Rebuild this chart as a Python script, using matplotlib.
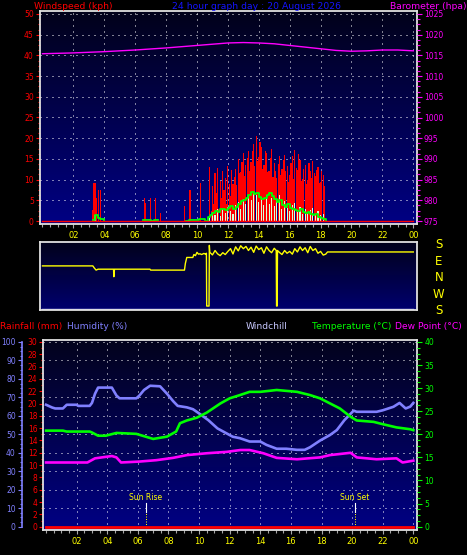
import numpy as np
import matplotlib
matplotlib.use("Agg")
import matplotlib.pyplot as plt
from matplotlib.colors import to_rgb
from matplotlib.ticker import MultipleLocator

# ---------------- data ----------------
hour_ticks = [2, 4, 6, 8, 10, 12, 14, 16, 18, 20, 22, 24]
hour_labels = ["02", "04", "06", "08", "10", "12", "14", "16", "18", "20", "22", "00"]

# barometer (hpa)
baro_hours = [0, 2, 4, 6, 8, 10, 11, 12, 13, 14, 15, 16, 17, 18, 19, 20, 21, 22, 23, 24]
baro_hpa = [1015.4, 1015.6, 1015.9, 1016.3, 1016.8, 1017.4, 1017.7, 1018.0, 1018.1, 1018.0,
            1017.8, 1017.4, 1017.0, 1016.6, 1016.2, 1016.0, 1016.1, 1016.3, 1016.3, 1016.1]

# gust bars (kph): scattered early ones, then 5 minute samples from 10:50
gust_early_hours = [3.23, 3.30, 3.40, 3.51, 3.64, 3.75, 6.58, 6.66, 6.99, 7.31, 7.65, 9.20, 9.55, 10.20]
gust_early_kph = [2.7, 9.1, 9.1, 5.5, 7.5, 7.5, 5.5, 4.3, 5.5, 5.5, 2.0, 3.6, 7.5, 9.1]
gust_main_start = 10.833
gust_main_kph = [
    13.0, 2.5, 8.5, 4.0, 11.5, 6.8, 12.8, 3.0, 9.6, 5.5, 12.0, 7.5,
    10.4, 4.2, 13.2, 9.0, 6.0, 12.4, 9.0, 10.6, 12.5, 8.8, 15.0, 11.6,
    11.8, 14.2, 16.5, 10.8, 13.5, 15.2, 17.0, 12.0, 14.2, 16.8, 18.5, 13.4,
    20.5, 14.6, 15.5, 19.0, 17.8, 12.5, 13.6, 17.0, 16.4, 11.8, 12.0, 15.2,
    17.5, 10.6, 14.0, 12.2, 10.5, 13.8, 15.8, 11.0, 12.6, 14.8, 16.0, 12.2,
    13.2, 9.4, 11.0, 14.0, 15.6, 10.2, 17.2, 12.8, 12.4, 16.2, 14.8, 9.6,
    10.2, 12.6, 13.5, 9.0, 9.8, 14.0, 12.0, 10.4, 14.6, 11.5, 10.8, 12.4,
    13.0, 9.2, 9.5, 12.0, 11.2, 8.5]

# average speed bars (kph), 10 minute samples from 10:50
avg_bar_hours_early = [3.40]
avg_bar_kph_early = [1.5]
avg_main_kph = [
    1.0, 2.2, 1.5, 2.8, 1.2, 3.0, 2.0, 3.4, 2.5, 1.8, 3.8, 4.5,
    3.0, 5.2, 4.0, 6.0, 5.0, 7.0, 6.2, 4.6, 5.8, 3.8, 6.4, 4.2,
    5.6, 3.6, 5.0, 6.2, 3.0, 4.8, 3.2, 2.4, 3.8, 4.4, 2.2, 3.4,
    1.8, 3.0, 2.0, 2.6, 3.2, 1.6, 2.4, 1.4, 1.8]

# green wind line (kph)
line_early_hours = [3.30, 3.40, 3.50, 3.60, 3.70, 3.85, 3.95, np.nan, 6.50, 6.70, 7.00, 7.20, 7.50,
                    np.nan, 9.30, 9.50, 9.70, 10.10, 10.30, 10.50, 10.70]
line_early_kph = [0.3, 1.4, 1.4, 0.8, 0.6, 0.6, 0.0, np.nan, 0.3, 0.3, 0.0, 0.3, 0.3,
                  np.nan, 0.0, 0.3, 0.3, 0.6, 0.6, 0.0, 1.0]
line_main_kph = [
    1.5, 2.0, 2.4, 2.2, 2.8, 3.0, 2.6, 3.2, 3.6, 3.0, 3.4, 4.2,
    4.8, 5.0, 5.6, 6.4, 7.0, 6.6, 6.8, 5.8, 5.4, 5.6, 6.2, 6.8,
    6.0, 5.2, 4.6, 5.0, 3.8, 3.4, 4.0, 3.2, 2.8, 2.6, 2.4, 2.8,
    2.2, 2.0, 2.2, 1.6, 1.4, 1.8, 1.0, 0.8, 0.4, 0.0]

# wind direction (degrees)
dir_hours = [
    0.00, 3.26, 3.35, 3.47, 3.60, 4.60, 4.62, 4.66, 6.96, 7.00, 9.19, 9.25, 9.34, 9.73,
    9.80, 9.90, 10.00, 10.10, 10.20, 10.30, 10.45, 10.55, 10.61, 10.63, 10.78, 10.80,
    10.83, 11.00, 11.17, 11.33, 11.50, 11.67, 11.83, 12.00, 12.17, 12.33, 12.50, 12.67,
    12.83, 13.00, 13.17, 13.33, 13.50, 13.67, 13.83, 14.00, 14.17, 14.33, 14.50, 14.67,
    14.83, 15.00, 15.13, 15.15, 15.19, 15.21, 15.33, 15.50, 15.67, 15.83, 16.00, 16.17,
    16.33, 16.50, 16.67, 16.83, 17.00, 17.17, 17.33, 17.50, 17.67, 17.83, 18.00, 18.17,
    18.33, 18.45, 24.00]
dir_deg = [
    66, 66, 55, 43, 48, 48, 7, 48, 48, 43, 43, 80, 112, 112,
    128, 122, 140, 130, 132, 128, 134, 130, 135, 207, 207, 178,
    140, 126, 150, 132, 122, 138, 128, 145, 160, 131, 170, 148,
    176, 160, 172, 150, 168, 140, 174, 155, 165, 135, 170, 150,
    138, 162, 150, 207, 207, 150, 140, 128, 150, 135, 145, 130,
    160, 142, 170, 150, 165, 138, 172, 150, 160, 135, 145, 125,
    130, 142, 142]
dir_names = ["S", "W", "N", "E", "S"]

# humidity (%)
hum_hours = [0.0, 0.4, 0.6, 1.1, 1.35, 2.0, 2.1, 2.85, 3.0, 3.2,
             3.4, 4.3, 4.6, 4.8, 5.9, 6.1, 6.4, 6.8, 7.45, 7.9,
             8.3, 8.6, 9.2, 9.6, 10.0, 10.6, 11.2, 11.8, 12.2, 12.67,
             13.3, 14.0, 14.4, 15.07, 15.7, 16.4, 16.9, 17.25, 17.9, 18.55,
             19.0, 19.5, 20.1, 20.3, 21.6, 22.0, 22.7, 23.1, 23.5, 23.8, 24.0]
hum_pct = [66, 64.5, 64, 64, 66, 66, 65.4, 65.4, 67, 72,
           75.3, 75.3, 71, 69.5, 69.5, 71, 74, 76.3, 76, 72,
           68, 65.4, 64.6, 63.6, 61.3, 57.7, 53.2, 50.5, 48.7, 47.9,
           46.1, 46.1, 44.3, 42.2, 42.2, 41.6, 41.6, 43, 46.6, 49.6,
           52.3, 57.7, 62.8, 62.2, 62.2, 63, 64.9, 67, 64, 65, 67]

# temperature (C)
temp_hours = [0.0, 1.1, 1.35, 2.85, 3.0, 3.4, 3.9, 4.6, 5.9, 7.0,
              7.9, 8.5, 8.75, 9.2, 9.85, 10.5, 11.4, 12.0, 12.67, 13.3,
              14.0, 15.07, 16.4, 17.25, 17.9, 18.55, 19.2, 19.9, 20.3, 21.4,
              22.0, 22.9, 23.8, 24.0]
temp_c = [20.8, 20.8, 20.6, 20.6, 20.4, 19.7, 19.7, 20.3, 20.1, 19.0,
          19.5, 20.6, 22.4, 23.0, 23.6, 24.7, 26.7, 27.8, 28.5, 29.2,
          29.2, 29.6, 29.2, 28.5, 27.8, 26.7, 25.6, 23.8, 23.0, 22.7,
          22.2, 21.5, 21.1, 20.9]

# dew point (C)
dew_hours = [0.0, 2.7, 3.2, 4.3, 4.6, 4.9, 6.1, 7.2, 8.3, 9.2,
             10.5, 11.8, 12.7, 13.3, 14.2, 15.07, 16.4, 17.9, 18.55, 19.9,
             20.3, 21.6, 22.9, 23.3, 24.0]
dew_c = [13.9, 13.9, 14.8, 15.3, 15.0, 13.9, 14.1, 14.4, 14.9, 15.5,
         15.9, 16.2, 16.6, 16.6, 15.9, 14.9, 14.6, 15.0, 15.5, 16.0,
         15.0, 14.6, 14.8, 13.9, 14.3]

# rainfall (mm)
rain_hours = [0, 24]
rain_mm = [0, 0]

sun_hours = [6.53, 20.2]
sun_labels = ["Sun Rise", "Sun Set"]

# ---------------- drawing ----------------
W, H = 467, 555
RED, MAG, GREEN, LAV = "#ff0000", "#ff00ff", "#00ff00", "#8080ff"
YEL, FRAME, TICKG = "#ffff00", "#e0e0e0", "#a8a8a8"
DOTS = (0, (1, 5))


def box(x0, y0, x1, y1):
    return [x0 / W, 1 - y1 / H, (x1 - x0) / W, (y1 - y0) / H]


def paint_gradient(ax, top, bottom):
    c0, c1 = np.array(to_rgb(top)), np.array(to_rgb(bottom))
    t = np.linspace(0, 1, 256)[:, None]
    img = (c0 + (c1 - c0) * t)[:, None, :]
    ax.imshow(img, extent=[0, 1, 0, 1], transform=ax.transAxes,
              aspect="auto", zorder=0, interpolation="bilinear")


def frame(ax):
    for s in ax.spines.values():
        s.set_color(FRAME)
        s.set_linewidth(1.3)


def hour_axis(ax):
    ax.set_xticks(hour_ticks)
    ax.set_xticklabels(hour_labels)
    ax.xaxis.set_minor_locator(MultipleLocator(0.5))
    ax.tick_params(axis="x", which="both", colors=TICKG, labelcolor=YEL,
                   labelsize=6, direction="out", pad=2)
    ax.tick_params(axis="x", which="major", length=3.2, width=0.8)
    ax.tick_params(axis="x", which="minor", length=2.2, width=0.8)


def dotted_grid(ax, ys, xs):
    for yv in ys:
        ax.axhline(yv, color="white", lw=0.72, ls=DOTS, zorder=1)
    for xv in xs:
        ax.axvline(xv, color="white", lw=0.72, ls=DOTS, zorder=1)


fig = plt.figure(figsize=(W / 100, H / 100), dpi=100, facecolor="black")

# ---- top panel: wind speed + barometer ----
ax_w = fig.add_axes(box(40, 11, 417, 224))
paint_gradient(ax_w, "#02021a", "#000084")
ax_w.set_xlim(-0.16, 24.24)
ax_w.set_ylim(-0.72, 50.72)
frame(ax_w)
hour_axis(ax_w)
ax_w.set_yticks(np.arange(0, 51, 5))
ax_w.yaxis.set_minor_locator(MultipleLocator(1.25))
ax_w.tick_params(axis="y", which="both", colors=RED, labelsize=5.5, direction="out", pad=1.5)
ax_w.tick_params(axis="y", which="major", length=3, width=0.8)
ax_w.tick_params(axis="y", which="minor", length=1.6, width=0.8)
dotted_grid(ax_w, np.arange(5, 51, 5), hour_ticks)

gust_main_hours = gust_main_start + np.arange(len(gust_main_kph)) / 12.0
avg_main_hours = gust_main_start + np.arange(len(avg_main_kph)) / 6.0
line_main_hours = gust_main_start + np.arange(len(line_main_kph)) / 6.0

ax_w.bar(gust_early_hours, gust_early_kph, width=0.07, color=RED, lw=0, zorder=2, antialiased=False)
ax_w.bar(gust_main_hours, gust_main_kph, width=0.075, color=RED, lw=0, zorder=2, antialiased=False)
ax_w.bar(avg_bar_hours_early, avg_bar_kph_early, width=0.07, color="#d8ffd8", lw=0, zorder=3,
         antialiased=False)
ax_w.bar(avg_main_hours, avg_main_kph, width=0.07, color="#d8ffd8", lw=0, zorder=3, antialiased=False)
ax_w.plot(list(line_early_hours) + list(line_main_hours), list(line_early_kph) + list(line_main_kph),
          color=GREEN, lw=1.3, drawstyle="steps-post", zorder=4)
ax_w.plot([0, 24], [0, 0], color=RED, lw=1.0, zorder=4)

ax_b = ax_w.twinx()
ax_b.set_ylim(975 - 0.72, 1025 + 0.72)
ax_b.set_yticks(np.arange(975, 1026, 5))
ax_b.yaxis.set_minor_locator(MultipleLocator(1.25))
ax_b.tick_params(axis="y", which="both", colors=MAG, labelsize=5.5, direction="out", pad=1.5)
ax_b.tick_params(axis="y", which="major", length=3.5, width=0.8)
ax_b.tick_params(axis="y", which="minor", length=1.8, width=0.8)
for s in ax_b.spines.values():
    s.set_visible(False)
ax_b.plot(baro_hours, baro_hpa, color=MAG, lw=1.0, zorder=5)

# ---- middle panel: wind direction ----
ax_d = fig.add_axes(box(40, 241.7, 417, 310))
paint_gradient(ax_d, "#02021a", "#00006e")
ax_d.set_xlim(-0.16, 24.24)
ax_d.set_ylim(0.06, 4.2)
frame(ax_d)
ax_d.set_xticks([])
ax_d.set_yticks([])
dir_level = ((np.array(dir_deg) + 180) % 360) / 90.0
ax_d.plot(dir_hours, dir_level, color=YEL, lw=1.0, zorder=3)
ax_d.plot([0, 24], [0.12, 0.12], color="#c8c8ff", lw=1.0, zorder=2)
for i, name in enumerate(dir_names):
    ax_d.text(1.058, i, name, transform=ax_d.get_yaxis_transform(), color=YEL,
              fontsize=8.5, ha="center", va="center", clip_on=False)

# ---- bottom panel: rain, humidity, temperature, dew point ----
ax_r = fig.add_axes(box(42.7, 340, 417.3, 530))
paint_gradient(ax_r, "#03031c", "#000084")
ax_r.set_xlim(-0.22, 24.26)
ax_r.set_ylim(-0.54, 30.32)
frame(ax_r)
hour_axis(ax_r)
ax_r.set_yticks(np.arange(0, 31, 2))
ax_r.yaxis.set_minor_locator(MultipleLocator(1))
ax_r.tick_params(axis="y", which="both", colors=RED, labelsize=5.5, direction="out", pad=1.2)
ax_r.tick_params(axis="y", which="major", length=2.6, width=0.8)
ax_r.tick_params(axis="y", which="minor", length=1.6, width=0.8)
dotted_grid(ax_r, np.arange(3, 31, 3), hour_ticks)
ax_r.plot(rain_hours, rain_mm, color=RED, lw=2.0, zorder=6)

for hx, lab in zip(sun_hours, sun_labels):
    ax_r.plot([hx, hx], [2.4, 3.85], color="white", lw=0.8, zorder=3)
    ax_r.plot([hx, hx], [0, 2.4], color=YEL, lw=0.72, ls=(0, (1, 1.5)), zorder=3)
    ax_r.text(hx, 4.7, lab, color=YEL, fontsize=5.5, ha="center", va="center", zorder=3)

ax_h = ax_r.twinx()
ax_h.set_ylim(-0.54 * 100 / 30, 30.32 * 100 / 30)
ax_h.yaxis.set_ticks_position("left")
for s in ax_h.spines.values():
    s.set_visible(False)
ax_h.spines["left"].set_visible(True)
ax_h.spines["left"].set_position(("outward", 21 * 0.72))
ax_h.spines["left"].set_color(LAV)
ax_h.spines["left"].set_linewidth(1.2)
ax_h.spines["left"].set_bounds(0, 100)
ax_h.set_yticks(np.arange(0, 101, 10))
ax_h.yaxis.set_minor_locator(MultipleLocator(2.5))
ax_h.tick_params(axis="y", which="both", colors=LAV, labelsize=5.5, direction="out", pad=1.2)
ax_h.tick_params(axis="y", which="major", length=3, width=0.8)
ax_h.tick_params(axis="y", which="minor", length=1.5, width=0.8)
ax_h.plot(hum_hours, hum_pct, color=LAV, lw=1.9, zorder=3)

ax_t = ax_r.twinx()
ax_t.set_ylim(-0.54 * 40 / 30, 30.32 * 40 / 30)
for s in ax_t.spines.values():
    s.set_visible(False)
ax_t.set_yticks(np.arange(0, 41, 5))
ax_t.yaxis.set_minor_locator(MultipleLocator(1.25))
ax_t.tick_params(axis="y", which="both", colors=GREEN, labelsize=5.5, direction="out", pad=1.5)
ax_t.tick_params(axis="y", which="major", length=3.5, width=0.8)
ax_t.tick_params(axis="y", which="minor", length=1.8, width=0.8)
ax_t.plot(temp_hours, temp_c, color=GREEN, lw=1.9, zorder=3)
ax_t.plot(dew_hours, dew_c, color=MAG, lw=1.9, zorder=3)

# ---- header texts ----
ty = 1 - 6.5 / H
fig.text(34 / W, ty, "Windspeed (kph)", color=RED, fontsize=6.7, ha="left", va="center")
fig.text(256.5 / W, ty, "24 hour graph day : 20 August 2026", color="#1414ff", fontsize=6.7,
         ha="center", va="center")
fig.text(466 / W, ty, "Barometer (hpa)", color=MAG, fontsize=6.7, ha="right", va="center")

by = 1 - 326.7 / H
fig.text(0.5 / W, by, "Rainfall (mm)", color=RED, fontsize=6.6, ha="left", va="center")
fig.text(67 / W, by, "Humidity (%)", color=LAV, fontsize=6.6, ha="left", va="center")
fig.text(246 / W, by, "Windchill", color="#c8c8ff", fontsize=6.6, ha="left", va="center")
fig.text(312 / W, by, "Temperature (°C)", color=GREEN, fontsize=6.6, ha="left", va="center")
fig.text(462 / W, by, "Dew Point (°C)", color=MAG, fontsize=6.6, ha="right", va="center")

fig.savefig("out.png", dpi=100, facecolor="black")
